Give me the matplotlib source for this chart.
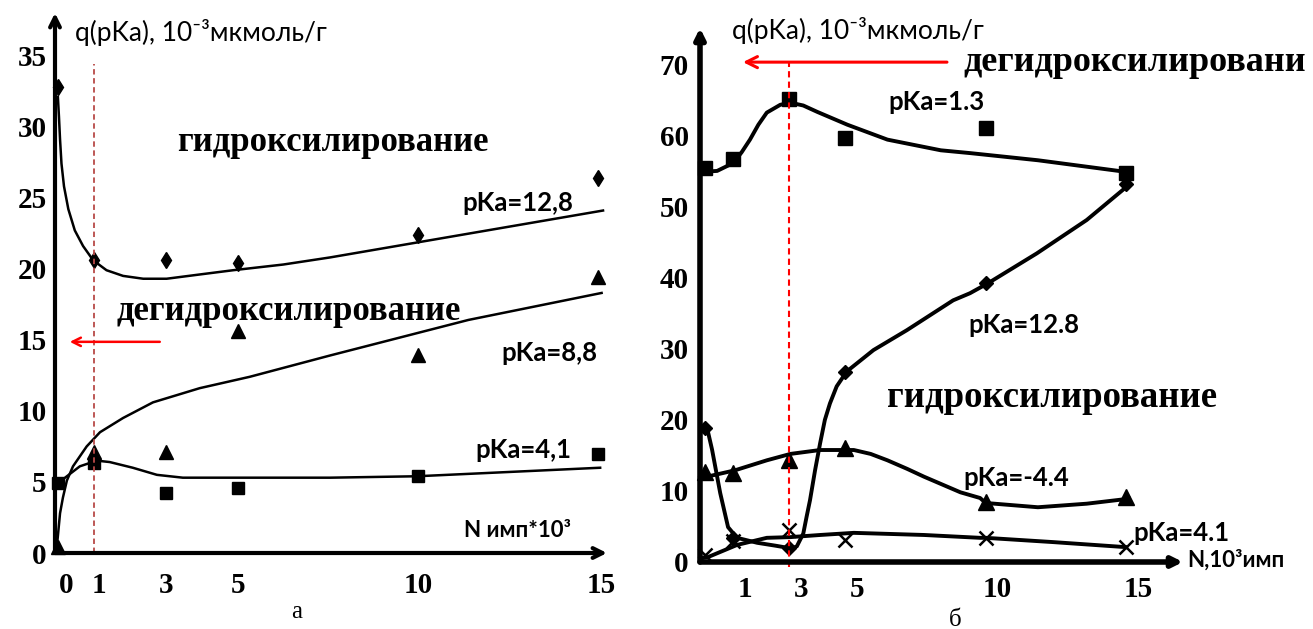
import matplotlib
matplotlib.use("Agg")
import matplotlib.pyplot as plt
import matplotlib.transforms as mtransforms

W, H = 1313, 629

# ---- panel a (left): measured points ----
a_x = [0, 1, 3, 5, 10, 15]
a_pka128 = [32.8, 20.6, 20.6, 20.4, 22.4, 26.4]   # diamonds
a_pka88 = [0.4, 7.1, 7.1, 15.6, 13.9, 19.4]       # triangles
a_pka41 = [4.9, 6.3, 4.2, 4.6, 5.4, 7.0]          # squares

# trend lines of panel a
a_fit128_x = [0, 0.03, 0.06, 0.1, 0.17, 0.29, 0.47, 0.7, 0.98, 1.35, 1.81, 2.37, 3.02, 3.94, 4.87, 6.26, 7.56, 15.14]
a_fit128_y = [32.1, 30.7, 29.1, 27.4, 25.8, 24.2, 22.7, 21.6, 20.6, 19.9, 19.5, 19.3, 19.3, 19.6, 19.9, 20.3, 20.8, 24.1]
a_fit88_x = [-0.03, 0.06, 0.14, 0.25, 0.42, 0.8, 1.17, 1.81, 2.64, 3.94, 5.33, 7.56, 11.4, 15.1]
a_fit88_y = [0.4, 2.8, 3.9, 5.1, 6.1, 7.5, 8.5, 9.5, 10.6, 11.6, 12.4, 13.9, 16.4, 18.3]
a_fit41_x = [0, 0.25, 0.61, 1.08, 1.44, 2.08, 2.75, 3.47, 4.86, 7.56, 9.97, 15.06]
a_fit41_y = [4.9, 5.4, 6.1, 6.5, 6.4, 6.0, 5.5, 5.3, 5.3, 5.3, 5.4, 6.0]

# ---- panel б (right): measured points ----
b_x = [0, 1, 3, 5, 10, 15]
b_pka13 = [55.4, 56.7, 65.1, 59.6, 61.0, 54.7]    # squares
b_pka128 = [18.8, 3.4, 2.0, 26.7, 39.2, 53.2]     # diamonds
b_pkam44 = [12.7, 12.5, 14.3, 16.0, 8.4, 9.1]     # triangles
b_pka41 = [1.0, 3.0, 4.5, 3.1, 3.4, 2.1]          # crosses

b_fit13_x = [0, 0.43, 1, 1.3, 1.6, 1.9, 2.2, 2.68, 3.04, 3.5, 4, 5.07, 6.5, 8.4, 9.46, 11.86, 14.93]
b_fit13_y = [54.9, 55.0, 56.1, 57.6, 59.4, 61.5, 63.2, 64.3, 64.6, 64.2, 63.3, 61.5, 59.4, 57.9, 57.5, 56.5, 54.9]
b_fit128_x = [0.07, 0.25, 0.54, 0.82, 1.14, 1.86, 2.5, 3.09, 3.27, 3.5, 3.62, 3.74, 3.92, 4.1, 4.27, 4.45,
              4.69, 5.05, 6.0, 7.19, 8.84, 9.44, 10.08, 11.82, 13.6, 15.12]
b_fit128_y = [18.9, 15.8, 9.7, 4.9, 3.4, 2.7, 2.3, 1.9, 2.2, 4.0, 6.4, 8.7, 12.9, 16.7, 20.0, 22.3,
              24.7, 26.8, 29.8, 32.6, 36.8, 37.8, 39.2, 43.4, 48.1, 53.1]
b_fitm44_x = [-0.18, 0.07, 1.07, 2.2, 3.04, 4.1, 5.3, 5.9, 6.5, 7.2, 7.8, 9.1, 9.8, 10.0, 11.86, 13.6, 15.1]
b_fitm44_y = [11.8, 12.0, 12.9, 14.3, 15.2, 15.75, 15.75, 15.2, 14.3, 13.1, 12.0, 9.8, 9.0, 8.3, 7.7, 8.2, 8.9]
b_fit41_x = [-0.18, 0.11, 1.14, 2.2, 3.04, 4.1, 5.3, 7.8, 9.8, 10.0, 12.4, 14.96]
b_fit41_y = [0.5, 0.7, 2.4, 3.4, 3.5, 3.8, 4.1, 3.8, 3.4, 3.4, 2.8, 2.1]

a_ticks = [0, 1, 3, 5, 10, 15]
b_ticks = [1, 3, 5, 10, 15]

serif = ["Liberation Serif", "DejaVu Serif"]
sans = ["Lato", "Open Sans", "DejaVu Sans"]


def box(x0, y0, x1, y1):
    # pixel box (left, top, right, bottom) -> figure fraction rect
    return [x0 / W, 1 - y1 / H, (x1 - x0) / W, (y1 - y0) / H]


fig = plt.figure(figsize=(W / 100, H / 100), dpi=100)
fig.patch.set_facecolor("white")

# ================= panel a =================
ax = fig.add_axes(box(55, 13, 607, 553))
ax.set_xlim(-0.08, 15.25)
ax.set_ylim(0, 38)
for s in ax.spines.values():
    s.set_visible(False)

ax.plot(a_fit128_x, a_fit128_y, color="black", lw=1.8, clip_on=False)
ax.plot(a_fit88_x, a_fit88_y, color="black", lw=1.8, clip_on=False)
ax.plot(a_fit41_x, a_fit41_y, color="black", lw=1.8, clip_on=False)
ax.plot(a_x, a_pka128, "d", color="black", ms=8.5, clip_on=False)
ax.plot(a_x, a_pka88, "^", color="black", ms=10, clip_on=False)
ax.plot(a_x, a_pka41, "s", color="black", ms=9, clip_on=False)

ax.plot([1, 1], [0, 34.4], ls=(0, (3, 2)), color="#b84a48", lw=1.3)

ax.annotate("", xy=(0, 1), xytext=(0, 0), xycoords="axes fraction",
            arrowprops=dict(arrowstyle="->,head_length=0.7,head_width=0.35", lw=3, color="black",
                            shrinkA=0, shrinkB=0))
ax.annotate("", xy=(1, 0), xytext=(0, 0), xycoords="axes fraction",
            arrowprops=dict(arrowstyle="->,head_length=0.7,head_width=0.35", lw=3, color="black",
                            shrinkA=0, shrinkB=0))
ax.annotate("", xy=(0.33, 14.86), xytext=(2.83, 14.86),
            arrowprops=dict(arrowstyle="->,head_length=0.6,head_width=0.3", lw=1.8, color="red",
                            shrinkA=0, shrinkB=0))

ax.set_xticks(a_ticks)
ax.set_xticklabels([str(t) for t in a_ticks])
ax.set_yticks(range(0, 36, 5))
ax.tick_params(length=0, labelsize=21, pad=6)
ax.tick_params(axis="x", pad=14)
# the first two labels sit a little to the right of their points in the original
for lab, dx in zip(ax.get_xticklabels(), [8, 5, 0, 0, 0, 3]):
    lab.set_transform(lab.get_transform() + mtransforms.ScaledTranslation(dx / 100, 0, fig.dpi_scale_trans))
for lab in ax.get_xticklabels() + ax.get_yticklabels():
    lab.set_family(serif)
    lab.set_fontweight("bold")

ax.text(0.47, 36.6, "q(pKa), 10⁻³мкмоль/г", family=sans, fontsize=19, ha="left", va="center")
ax.text(7.65, 28.9, "гидроксилирование", family=serif, fontweight="bold", fontsize=25, ha="center", va="center")
ax.text(6.4, 17.0, "дегидроксилирование", family=serif, fontweight="bold", fontsize=25, ha="center", va="center")
ax.text(14.3, 24.6, "pKa=12,8", family=sans, fontweight="bold", fontsize=18.5, ha="right", va="center")
ax.text(14.97, 14.1, "pKa=8,8", family=sans, fontweight="bold", fontsize=18.5, ha="right", va="center")
ax.text(14.25, 7.25, "pKa=4,1", family=sans, fontweight="bold", fontsize=18.5, ha="right", va="center")
ax.text(14.25, 1.6, "N имп*10³", family=sans, fontweight="bold", fontsize=16, ha="right", va="center")

# ================= panel б =================
bx = fig.add_axes(box(700, 28, 1183, 562))
bx.set_xlim(-0.18, 17.03)
bx.set_ylim(0, 75.1)
for s in bx.spines.values():
    s.set_visible(False)

bx.plot(b_fit13_x, b_fit13_y, color="black", lw=2.8, clip_on=False)
bx.plot(b_fit128_x, b_fit128_y, color="black", lw=2.8, clip_on=False)
bx.plot(b_fitm44_x, b_fitm44_y, color="black", lw=2.8, clip_on=False)
bx.plot(b_fit41_x, b_fit41_y, color="black", lw=2.8, clip_on=False)
bx.plot(b_x, b_pka13, "s", color="black", ms=10, clip_on=False)
bx.plot(b_x, b_pka128, "D", color="black", ms=7, clip_on=False)
bx.plot(b_x, b_pkam44, "^", color="black", ms=11, clip_on=False)
bx.plot(b_x, b_pka41, "x", color="black", ms=10, mew=1.8, clip_on=False)

bx.plot([3, 3], [-0.7, 70.3], ls=(0, (3, 2)), color="red", lw=1.5, clip_on=False)

bx.annotate("", xy=(0, 1), xytext=(0, 0), xycoords="axes fraction",
            arrowprops=dict(arrowstyle="-|>,head_length=0.6,head_width=0.3", lw=4, color="black",
                            shrinkA=0, shrinkB=0))
bx.annotate("", xy=(1, 0), xytext=(0, 0), xycoords="axes fraction",
            arrowprops=dict(arrowstyle="-|>,head_length=0.6,head_width=0.3", lw=4, color="black",
                            shrinkA=0, shrinkB=0))
bx.annotate("", xy=(1.35, 70.3), xytext=(8.62, 70.3),
            arrowprops=dict(arrowstyle="->,head_length=0.8,head_width=0.4", lw=2.2, color="red",
                            shrinkA=0, shrinkB=0))

bx.set_xticks(b_ticks)
bx.set_xticklabels([str(t) for t in b_ticks])
bx.set_yticks(range(0, 71, 10))
bx.tick_params(length=0, labelsize=21, pad=8)
bx.tick_params(axis="x", pad=10)
shift = mtransforms.ScaledTranslation(12 / 100, 0, fig.dpi_scale_trans)
for lab in bx.get_xticklabels():
    lab.set_transform(lab.get_transform() + shift)
for lab in bx.get_xticklabels() + bx.get_yticklabels():
    lab.set_family(serif)
    lab.set_fontweight("bold")

bx.text(0.96, 74.8, "q(pKa), 10⁻³мкмоль/г", family=sans, fontsize=19, ha="left", va="center")
# the word runs off the right edge in the original; only the visible part is kept
bx.text(9.19, 70.3, "дегидроксилировани", family=serif, fontweight="bold", fontsize=26, ha="left", va="center")
bx.text(6.52, 64.7, "pKa=1.3", family=sans, fontweight="bold", fontsize=18.5, ha="left", va="center")
bx.text(9.37, 33.3, "pKa=12.8", family=sans, fontweight="bold", fontsize=18.5, ha="left", va="center")
bx.text(6.48, 23.2, "гидроксилирование", family=serif, fontweight="bold", fontsize=26.5, ha="left", va="center")
bx.text(9.19, 11.8, "pKa=-4.4", family=sans, fontweight="bold", fontsize=18.5, ha="left", va="center")
bx.text(15.25, 4.1, "pKa=4.1", family=sans, fontweight="bold", fontsize=18.5, ha="left", va="center")
bx.text(17.17, 0.3, "N,10³имп", family=sans, fontweight="bold", fontsize=16, ha="left", va="center")

fig.text(297 / W, 1 - 612 / H, "а", family=serif, fontsize=18, ha="center", va="center")
fig.text(955 / W, 1 - 620 / H, "б", family=serif, fontsize=18, ha="center", va="center")

fig.savefig("out.png", dpi=100, facecolor="white")
